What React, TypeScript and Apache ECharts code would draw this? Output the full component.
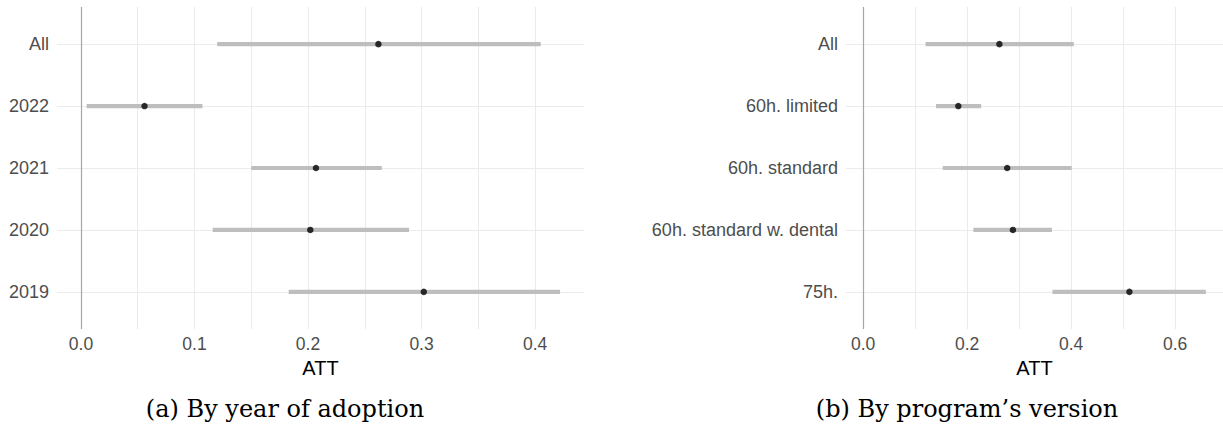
import React, { useEffect, useRef } from "react";
import * as echarts from "echarts";

// Panel (a): by year of adoption (bottom to top)
const yearCategories = ["2019", "2020", "2021", "2022", "All"];
const yearEstimate = [0.302, 0.202, 0.207, 0.056, 0.262];
const yearLower = [0.183, 0.116, 0.150, 0.005, 0.120];
const yearUpper = [0.422, 0.289, 0.265, 0.107, 0.405];
const yearMajorTicks = [0, 0.1, 0.2, 0.3, 0.4];
const yearMinorTicks = [0.05, 0.15, 0.25, 0.35];

// Panel (b): by program's version (bottom to top)
const versionCategories = ["75h.", "60h. standard w. dental", "60h. standard", "60h. limited", "All"];
const versionEstimate = [0.512, 0.288, 0.277, 0.183, 0.262];
const versionLower = [0.364, 0.212, 0.153, 0.140, 0.120];
const versionUpper = [0.659, 0.363, 0.401, 0.227, 0.405];
const versionMajorTicks = [0, 0.2, 0.4, 0.6];
const versionMinorTicks = [0.1, 0.3, 0.5];

const referenceLine = 0;
const axisTitle = "ATT";
const captions = ["(a) By year of adoption", "(b) By program\u2019s version"];

const SANS = "Liberation Sans, Arial, sans-serif";
const GRID_COLOR = "#EBEBEB";

function expandRange(lower: number[], upper: number[]) {
  const lo = Math.min(referenceLine, ...lower);
  const hi = Math.max(referenceLine, ...upper);
  const pad = (hi - lo) * 0.05;
  return [lo - pad, hi + pad];
}

function panel(
  idx: number,
  cats: string[],
  est: number[],
  lo: number[],
  hi: number[],
  major: number[],
  minor: number[],
  decimals: number
) {
  const [xmin, xmax] = expandRange(lo, hi);
  const allTicks = [...major, ...minor].sort((a, b) => a - b);
  const catPos = cats.map((_, i) => i + 1);
  const xAxis = {
    type: "value",
    gridIndex: idx,
    min: xmin,
    max: xmax,
    name: axisTitle,
    nameLocation: "middle",
    nameGap: 25,
    nameTextStyle: { fontFamily: SANS, fontSize: 20, color: "#000000" },
    axisLine: { show: false, onZero: false },
    axisTick: { show: false, customValues: allTicks },
    axisLabel: {
      customValues: major,
      formatter: (v: number) => v.toFixed(decimals),
      fontFamily: SANS,
      fontSize: 17.5,
      color: "#4D4D4D",
      margin: 6,
    },
    splitLine: { show: true, lineStyle: { color: GRID_COLOR, width: 1 } },
  };
  const yAxis = {
    type: "value",
    gridIndex: idx,
    min: 0.4,
    max: cats.length + 0.6,
    axisLine: { show: false, onZero: false },
    axisTick: { show: false, customValues: catPos },
    axisLabel: {
      customValues: catPos,
      formatter: (v: number) => cats[Math.round(v) - 1] ?? "",
      fontFamily: SANS,
      fontSize: 18,
      color: "#4D4D4D",
      margin: 8,
    },
    splitLine: { show: true, lineStyle: { color: GRID_COLOR, width: 1 } },
  };
  const ciSeries = {
    type: "custom",
    xAxisIndex: idx,
    yAxisIndex: idx,
    encode: { x: [0, 1], y: 2 },
    data: cats.map((_, i) => [lo[i], hi[i], i + 1]),
    renderItem: (params: any, api: any) => {
      const a = api.coord([api.value(0), api.value(2)]);
      const b = api.coord([api.value(1), api.value(2)]);
      return {
        type: "line",
        shape: { x1: a[0], y1: a[1], x2: b[0], y2: b[1] },
        style: { stroke: "#BEBEBE", lineWidth: 4.2 },
      };
    },
    z: 3,
  };
  const pointSeries = {
    type: "scatter",
    xAxisIndex: idx,
    yAxisIndex: idx,
    data: cats.map((_, i) => [est[i], i + 1]),
    symbol: "circle",
    symbolSize: 6.5,
    itemStyle: { color: "#000000" },
    z: 4,
    markLine: {
      silent: true,
      symbol: ["none", "none"],
      label: { show: false },
      lineStyle: { color: "#A6A6A6", width: 1.2, type: "solid" },
      data: [{ xAxis: referenceLine }],
    },
  };
  return { xAxis, yAxis, series: [ciSeries, pointSeries] };
}

export default function App() {
  const ref = useRef<HTMLDivElement>(null);
  useEffect(() => {
    document.body.style.margin = "0";
    if (!ref.current) return;
    const chart = echarts.init(ref.current, null, { renderer: "svg" });
    const a = panel(0, yearCategories, yearEstimate, yearLower, yearUpper, yearMajorTicks, yearMinorTicks, 1);
    const b = panel(1, versionCategories, versionEstimate, versionLower, versionUpper, versionMajorTicks, versionMinorTicks, 1);
    const captionStyle = {
      font: "24px 'DejaVu Serif', serif",
      fill: "#000000",
      textAlign: "center",
      textVerticalAlign: "middle",
    };
    chart.setOption({
      animation: false,
      backgroundColor: "#ffffff",
      grid: [
        { left: 57, top: 7, width: 527, height: 322 },
        { left: 846, top: 7, width: 379, height: 322 },
      ],
      xAxis: [a.xAxis, b.xAxis],
      yAxis: [a.yAxis, b.yAxis],
      series: [...a.series, ...b.series],
      graphic: [
        { type: "text", x: 285, y: 409, style: { ...captionStyle, text: captions[0] } },
        { type: "text", x: 967, y: 409, style: { ...captionStyle, text: captions[1] } },
      ],
    });
    return () => chart.dispose();
  }, []);
  return <div ref={ref} style={{ width: 1223, height: 433 }} />;
}
